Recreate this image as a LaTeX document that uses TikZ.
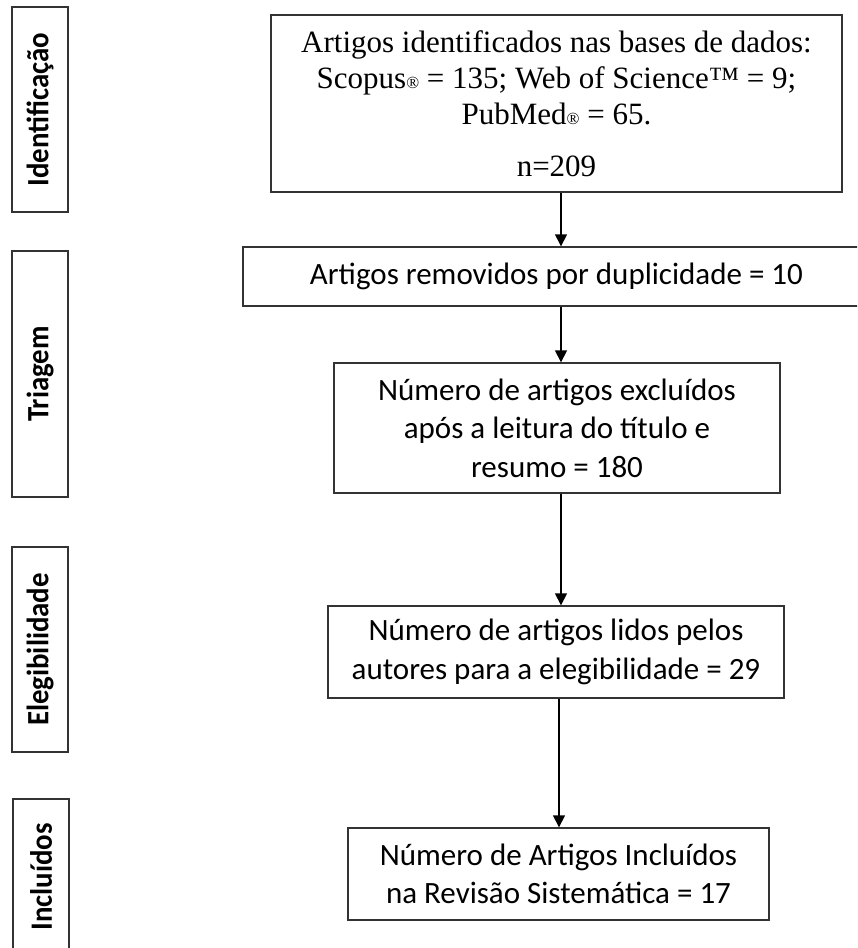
\documentclass[tikz,border=0pt]{standalone}
\usepackage{fontspec}
\setmainfont{Liberation Serif}
\newfontfamily\calibri{Carlito}
\usetikzlibrary{arrows.meta}
\newcommand{\stagelabel}[1]{\scalebox{0.93}[1]{#1}}
\begin{document}
\begin{tikzpicture}[x=1pt,y=-1pt,
  box/.style={draw=black!80, line width=1.4pt, rectangle, inner sep=0pt, align=center,
    font=\calibri\fontsize{31}{38.5}\selectfont},
  stage/.style={draw=black!80, line width=1.4pt, rectangle, inner sep=0pt, rotate=90,
    minimum height=56pt, font=\calibri\bfseries\fontsize{31}{34}\selectfont},
  arr/.style={draw=black, line width=1.5pt, -{Triangle[width=12pt,length=12pt]}}
]
\useasboundingbox (0,0) rectangle (857,948);
\clip (0,0) rectangle (857,948);
\fill[white] (0,0) rectangle (857,948);

% stage labels
\node[stage, minimum width=205pt] (s1) at (40,109.5) {\stagelabel{Identificação}};
\node[stage, minimum width=246pt] (s2) at (40,374) {\stagelabel{Triagem}};
\node[stage, minimum width=205pt] (s3) at (40,649.5) {\stagelabel{Elegibilidade}};
\node[stage, minimum width=156pt] (s4) at (41,877) {\stagelabel{Incluídos}};

% main boxes
\node[box, minimum width=571pt, minimum height=177pt, font=\fontsize{31}{36}\selectfont] (b1) at (556.5,103.5)
  {Artigos identificados nas bases de dados:\\
   Scopus{\fontsize{17}{17}\selectfont ®} = 135; Web of Science™ = 9;\\
   PubMed{\fontsize{17}{17}\selectfont ®} = 65.\\[16pt]
   n=209};
\node[box, minimum width=627pt, minimum height=59pt] (b2) at (556.5,276.5)
  {Artigos removidos por duplicidade = 10};
\node[box, minimum width=446pt, minimum height=130pt] (b3) at (557,428)
  {Número de artigos excluídos\\após a leitura do título e\\resumo = 180};
\node[box, minimum width=456pt, minimum height=92pt] (b4) at (556,652)
  {Número de artigos lidos pelos\\autores para a elegibilidade = 29};
\node[box, minimum width=421pt, minimum height=92pt] (b5) at (558.5,874)
  {Número de Artigos Incluídos\\na Revisão Sistemática = 17};

% arrows
\draw[arr] ([xshift=4.5pt]b1.south) -- ([xshift=4.5pt]b1.south |- b2.north);
\draw[arr] ([xshift=4.5pt]b2.south) -- ([xshift=4.5pt]b2.south |- b3.north);
\draw[arr] ([xshift=4pt]b3.south) -- ([xshift=4pt]b3.south |- b4.north);
\draw[arr] ([xshift=3pt]b4.south) -- ([xshift=3pt]b4.south |- b5.north);
\end{tikzpicture}
\end{document}
